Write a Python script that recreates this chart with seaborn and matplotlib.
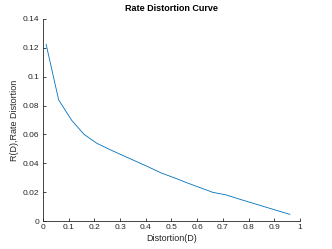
import matplotlib
matplotlib.use("Agg")
import matplotlib.pyplot as plt
import seaborn as sns
import pandas as pd

distortion = [0.012, 0.061, 0.112, 0.160, 0.21, 0.26, 0.31, 0.36, 0.41, 0.46,
              0.51, 0.56, 0.61, 0.66, 0.71, 0.76, 0.81, 0.86, 0.91, 0.961]
rate = [0.1226, 0.0839, 0.0697, 0.0600, 0.0538, 0.0495, 0.0455, 0.0415, 0.0375, 0.0333,
        0.0300, 0.0265, 0.0232, 0.0199, 0.0182, 0.0154, 0.0127, 0.0100, 0.0073, 0.0046]

xticks = [0, 0.1, 0.2, 0.3, 0.4, 0.5, 0.6, 0.7, 0.8, 0.9, 1]
xticklabels = ["0", "0.1", "0.2", "0.3", "0.4", "0.5", "0.6", "0.7", "0.8", "0.9", "1"]
yticks = [0, 0.02, 0.04, 0.06, 0.08, 0.1, 0.12, 0.14]
yticklabels = ["0", "0.02", "0.04", "0.06", "0.08", "0.1", "0.12", "0.14"]

sns.set_style("ticks")
plt.rcParams['font.family'] = ['Liberation Sans', 'DejaVu Sans']
plt.rcParams['xtick.direction'] = 'in'
plt.rcParams['ytick.direction'] = 'in'

df = pd.DataFrame({"D": distortion, "R": rate})

fig = plt.figure(figsize=(3.32, 2.49), dpi=100)
ax = fig.add_axes([0.1295, 0.1124, 0.7741, 0.8113])
sns.lineplot(data=df, x="D", y="R", ax=ax, color="#0072BD", linewidth=0.6)

ax.set_xlim(0, 1)
ax.set_ylim(0, 0.14)
ax.set_xticks(xticks)
ax.set_xticklabels(xticklabels)
ax.set_yticks(yticks)
ax.set_yticklabels(yticklabels)

gray = "#262626"
for s in ["top", "right"]:
    ax.spines[s].set_visible(False)
for s in ["left", "bottom"]:
    ax.spines[s].set_color(gray)
    ax.spines[s].set_linewidth(0.6)
ax.tick_params(axis="both", labelsize=6, colors=gray, length=2.5, width=0.6, pad=2.5)

ax.set_xlabel("Distortion(D)", fontsize=6.5, color=gray, labelpad=2)
ax.set_ylabel("R(D),Rate Distortion", fontsize=6.5, color=gray, labelpad=3)
ax.set_title("Rate Distortion Curve", fontsize=6.5, fontweight="bold", color="black", pad=6)

fig.savefig("out.png", dpi=100)
